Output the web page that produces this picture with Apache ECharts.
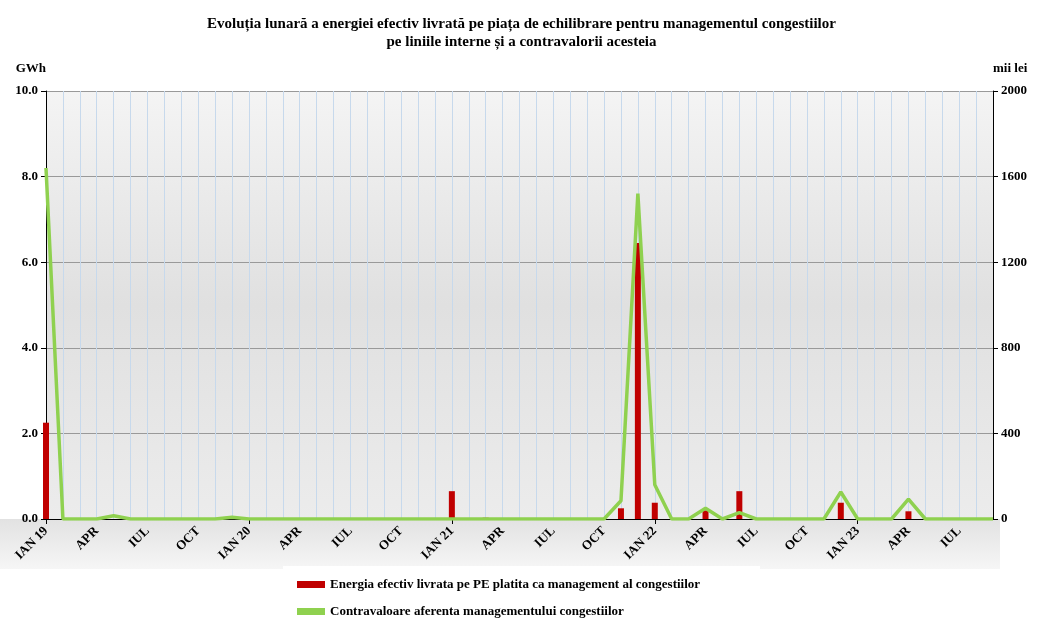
<!DOCTYPE html>
<html><head><meta charset="utf-8">
<script src="https://cdn.jsdelivr.net/npm/echarts@6/dist/echarts.min.js"></script>
<style>html,body{margin:0;padding:0;background:#fff}#c{width:1043px;height:621px}</style>
</head><body><div id="c"></div>
<script>
const monthNames=['IAN','FEB','MAR','APR','MAI','IUN','IUL','AUG','SEP','OCT','NOI','DEC'];
const categories=[];
for(let y=19;y<=23;y++){for(let m=0;m<12;m++){if(y===23&&m>8)break;categories.push(m===0?'IAN '+y:monthNames[m]);}}
// GWh, Jan 2019 .. Sep 2023
const energy=[2.25,0,0,0,0,0,0,0,0,0,0,0, 0,0,0,0,0,0,0,0,0,0,0,0, 0.65,0,0.03,0,0,0,0,0,0,0,0.25,6.45, 0.38,0,0,0.2,0,0.65,0,0,0,0,0,0.38, 0,0,0,0.18,0,0,0,0,0];
// mii lei
const value=[1640,0,0,0,15,0,0,0,0,0,0,8, 0,0,0,0,0,0,0,0,0,0,0,0, 0,0,0,0,0,0,0,0,0,0,85,1520, 160,0,0,50,0,30,0,0,0,0,0,126, 0,0,0,93,0,0,0,0,0];
const leftTicks=[0,2,4,6,8,10];
const rightTicks=[0,400,800,1200,1600,2000];
const chart=echarts.init(document.getElementById('c'));
const font='Liberation Serif';
chart.setOption({
  textStyle:{fontFamily:font},
  title:{text:'Evoluția lunară a energiei efectiv livrată pe piața de echilibrare pentru managementul congestiilor\npe liniile interne și a contravalorii acesteia',left:'center',top:10,
    textStyle:{fontFamily:font,fontSize:15,fontWeight:'bold',color:'#000',lineHeight:18}},
  graphic:[{type:'rect',shape:{x:46,y:91,width:947,height:428},style:{fill:new echarts.graphic.LinearGradient(0,0,0,1,[{offset:0,color:'#f4f4f4'},{offset:0.5,color:'#e0e0e0'},{offset:1,color:'#ececec'}])},z:-10},
    {type:'rect',shape:{x:0,y:519,width:1000,height:50},style:{fill:new echarts.graphic.LinearGradient(0,0,0,1,[{offset:0,color:'#e2e2e2'},{offset:1,color:'#f6f6f6'}])},z:-10},
    {type:'rect',shape:{x:283,y:566,width:477,height:60},style:{fill:'#fff'},z:-5}],
  legend:{orient:'vertical',left:292,top:573,height:60,itemGap:14,itemWidth:28,itemHeight:7,
    textStyle:{fontFamily:font,fontSize:13,fontWeight:'bold',color:'#000'},
    data:[{name:'Energia efectiv livrata pe PE platita ca management al congestiilor',icon:'rect'},{name:'Contravaloare aferenta managementului congestiilor',icon:'rect'}]},
  grid:{left:46,right:50,top:91,bottom:102},
  xAxis:{type:'category',data:categories,boundaryGap:false,
    axisLine:{lineStyle:{color:'#000'}},axisTick:{interval:11,length:5,lineStyle:{color:'#000'}},
    axisLabel:{interval:2,rotate:45,fontFamily:font,fontSize:13,fontWeight:'bold',color:'#000',margin:10},
    splitLine:{show:true,interval:0,lineStyle:{color:'#c7d9ec',width:1}}},
  yAxis:[{type:'value',min:0,max:10,interval:2,name:'GWh',nameLocation:'end',nameGap:16,
      nameTextStyle:{fontFamily:font,fontWeight:'bold',fontSize:13,color:'#000',align:'right'},
      axisLine:{show:true,lineStyle:{color:'#000'}},axisTick:{show:true,lineStyle:{color:'#000'}},
      axisLabel:{fontFamily:font,fontWeight:'bold',fontSize:13,color:'#000',formatter:v=>v.toFixed(1)},
      splitLine:{lineStyle:{color:'#999',width:1}}},
    {type:'value',min:0,max:2000,interval:400,name:'mii lei',nameGap:16,
      nameTextStyle:{fontFamily:font,fontWeight:'bold',fontSize:13,color:'#000',align:'left'},
      axisLine:{show:true,lineStyle:{color:'#000'}},axisTick:{show:true,lineStyle:{color:'#000'}},
      axisLabel:{fontFamily:font,fontWeight:'bold',fontSize:13,color:'#000',formatter:v=>String(v)},splitLine:{show:false}}],
  series:[{name:'Energia efectiv livrata pe PE platita ca management al congestiilor',type:'bar',data:energy,barWidth:6,
      itemStyle:{color:'#c00000'}},
    {name:'Contravaloare aferenta managementului congestiilor',type:'line',yAxisIndex:1,data:value,symbol:'none',
      lineStyle:{color:'#8fd14f',width:3.5},itemStyle:{color:'#8fd14f'}}]
});
</script></body></html>
